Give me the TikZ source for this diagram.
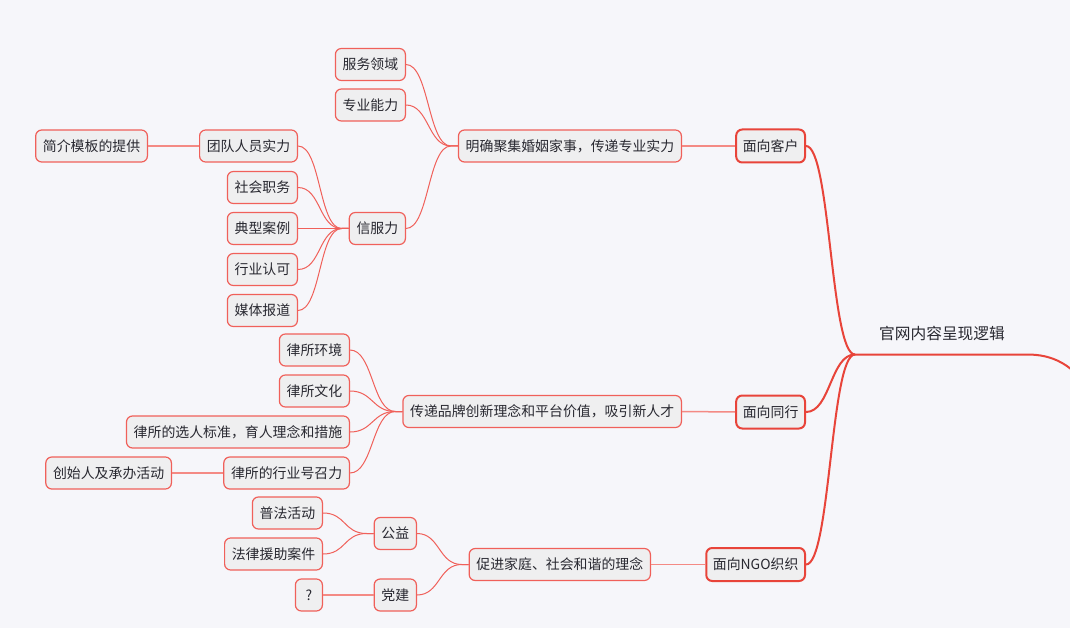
\documentclass[tikz,border=0pt]{standalone}
\usepackage{fontspec}
\setmainfont{Noto Sans CJK SC}
\usetikzlibrary{calc}
\definecolor{bgc}{RGB}{246,246,250}
\definecolor{boxfill}{RGB}{239,239,240}
\definecolor{redA}{RGB}{232,68,58}
\definecolor{redB}{RGB}{240,96,90}
\definecolor{pinkL}{RGB}{244,138,132}
\definecolor{txt}{RGB}{40,40,48}
\tikzset{
  mmbox/.style={draw=redB, line width=1.2pt, fill=boxfill, rounded corners=6pt,
    minimum height=32pt, inner xsep=7.2pt, inner ysep=0pt, anchor=east,
    text=txt, font=\fontsize{13.9pt}{16pt}\selectfont},
  topbox/.style={mmbox, draw=redA, line width=2pt, minimum height=33pt, inner xsep=6.6pt},
  cline/.style={draw=redB, line width=1pt},
  sline/.style={draw=pinkL, line width=1.5pt},
  rootline/.style={draw=redA, line width=2pt},
}
\newcommand\mmlink[3]{\draw[cline] (#1.east) .. controls +(#3,0) and +(-#3,0) .. ([xshift=-7pt]#2.west) -- (#2.west);}
\begin{document}
\begin{tikzpicture}[x=1pt,y=-1pt]
\fill[bgc] (0,0) rectangle (1070,628);
\useasboundingbox (0,0) rectangle (1070,628);

% root
\node[text=txt, font=\fontsize{15.7pt}{18pt}\selectfont, inner sep=0pt] (root) at (942,333.5) {官网内容呈现逻辑};
\coordinate (j) at (855,354.5);
\coordinate (ju) at (1027,354.5);
\begin{scope}
\clip (0,0) rectangle (1070,628);
\draw[rootline] (j) -- (ju) .. controls (1050,354.5) and (1075,362) .. (1095,400);
\end{scope}

% level 1
\node[topbox] (c1) at (806,146) {面向客户};
\node[topbox] (c2) at (806,412) {面向同行};
\node[topbox] (c3) at (806,564.5) {面向NGO织织};

% level 2
\node[mmbox] (m1) at (682,146) {明确聚集婚姻家事，传递专业实力};
\node[mmbox] (m2) at (682,411.5) {传递品牌创新理念和平台价值，吸引新人才};
\node[mmbox] (m3) at (651,564.5) {促进家庭、社会和谐的理念};

% client branch
\node[mmbox] (a1) at (406,64.5) {服务领域};
\node[mmbox] (a2) at (406,105) {专业能力};
\node[mmbox] (a3) at (406,228.5) {信服力};
\node[mmbox] (b1) at (298,146) {团队人员实力};
\node[mmbox] (b2) at (298,187.5) {社会职务};
\node[mmbox] (b3) at (298,228.5) {典型案例};
\node[mmbox] (b4) at (298,269.5) {行业认可};
\node[mmbox] (b5) at (298,310.5) {媒体报道};
\node[mmbox] (b0) at (148,146) {简介模板的提供};

% peer branch
\node[mmbox] (p1) at (350,350) {律所环境};
\node[mmbox] (p2) at (350,391) {律所文化};
\node[mmbox] (p3) at (350,432) {律所的选人标准，育人理念和措施};
\node[mmbox] (p4) at (350,473) {律所的行业号召力};
\node[mmbox] (p0) at (172,473) {创始人及承办活动};

% NGO branch
\node[mmbox] (n1) at (417,533.5) {公益};
\node[mmbox] (n2) at (417,595) {党建};
\node[mmbox] (q1) at (323,513) {普法活动};
\node[mmbox] (q2) at (323,554) {法律援助案件};
\node[mmbox, minimum width=27pt, inner xsep=2pt] (q3) at (323,595) {?};

% root connectors
\foreach \c in {c1,c2,c3}{
  \draw[rootline] (\c.east) .. controls +(24.5,0) and +(-24.5,0) .. (j);
}

% straight connectors
\draw[sline] (m1.east) -- (c1.west);
\draw[sline] (m2.east) -- (c2.west);
\draw[sline] (m3.east) -- (c3.west);
\draw[sline] (b1.west) -- (b0.east);
\draw[sline] (p4.west) -- (p0.east);
\draw[sline] (q3.east) -- (n2.west);

% curved connectors
\mmlink{a1}{m1}{23}
\mmlink{a2}{m1}{23}
\mmlink{a3}{m1}{23}
\mmlink{b1}{a3}{23}
\mmlink{b2}{a3}{23}
\mmlink{b3}{a3}{23}
\mmlink{b4}{a3}{23}
\mmlink{b5}{a3}{23}
\mmlink{p1}{m2}{23}
\mmlink{p2}{m2}{23}
\mmlink{p3}{m2}{23}
\mmlink{p4}{m2}{23}
\mmlink{n1}{m3}{23}
\mmlink{n2}{m3}{23}
\mmlink{q1}{n1}{23}
\mmlink{q2}{n1}{23}
\end{tikzpicture}
\end{document}
